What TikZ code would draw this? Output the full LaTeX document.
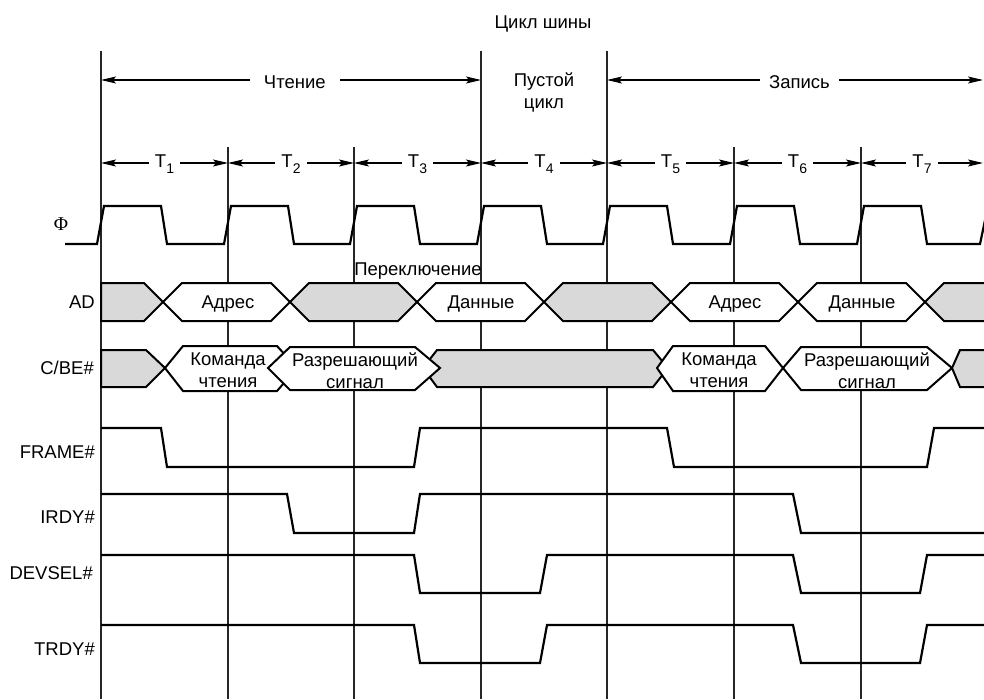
\documentclass[tikz,border=0pt]{standalone}
\usepackage{fontspec}
\setmainfont{Liberation Sans}
\newfontfamily\phifont{Liberation Serif}
\usetikzlibrary{arrows.meta}
\newcommand{\Tl}[1]{T\raisebox{-6pt}{\fontsize{14}{14}\selectfont #1}}
\begin{document}
\begin{tikzpicture}[x=1pt,y=-1pt,
  gridline/.style={line width=1.1pt, black!85},
  sig/.style={line width=2.2pt, line join=miter},
  bus/.style={line width=2pt, line join=miter, fill=white, draw=black},
  busg/.style={bus, fill=black!15},
  dim/.style={line width=1.1pt, {Stealth[length=15pt,width=7pt,inset=3pt]}-{Stealth[length=15pt,width=7pt,inset=3pt]}},
  lbl/.style={font=\fontsize{18.5}{22}\selectfont, inner sep=0pt},
  gap/.style={lbl, fill=white, inner xsep=6pt, inner ysep=1pt},
  siglbl/.style={lbl, anchor=base east},
  twoline/.style={lbl, align=center},
]
\useasboundingbox (0,0) rectangle (984,699);
\clip (0,0) rectangle (984,699);

% grid lines
\foreach \n/\x/\t in {0/101/51, 1/228/147, 2/354/147, 3/481/51, 4/607/51, 5/734/147, 6/861/147} {
  \coordinate (gt\n) at (\x,\t);
  \coordinate (gb\n) at (\x,699);
  \draw[gridline] (gt\n) -- (gb\n);
}

% titles
\node[lbl, anchor=base] (title) at (543,28) {Цикл шины};
\node[twoline] (idle) at (544,92) {Пустой\\цикл};

% phase arrows
\coordinate (rdL) at (101,80); \coordinate (rdR) at (481,80);
\draw[dim] (rdL) -- node[gap, inner xsep=14pt, pos=0.51, yshift=-2.5pt] (rdT) {Чтение} (rdR);
\coordinate (wrL) at (607,80); \coordinate (wrR) at (983,80);
\draw[dim] (wrL) -- node[gap, inner xsep=9pt, pos=0.512, yshift=-2.5pt] (wrT) {Запись} (wrR);

% T arrows
\foreach \i/\a/\b in {1/101/228, 2/228/354, 3/354/481, 4/481/607, 5/607/734, 6/734/861, 7/861/983} {
  \coordinate (tL\i) at (\a,163);
  \coordinate (tR\i) at (\b,163);
  \draw[dim] (tL\i) -- node[gap, yshift=-1pt] (tT\i) {\Tl{\i}} (tR\i);
}

% clock
\node[lbl, font=\fontsize{19.5}{19.5}\phifont] (phi) at (61,224) {Φ};
\draw[sig] (65,244)
  \foreach \x in {101,228,354,481,607,734,861} { -- (\x-4,244) -- (\x+3,206) -- (\x+60,206) -- (\x+66,244) }
  -- (980,244) -- (988,206);

% AD bus
\node[siglbl] (adL) at (95,308.5) {AD};
\path[busg] (101,283) -- (144,283) -- (163,302) -- (144,321) -- (101,321) -- cycle;
\foreach \a/\b/\st in {163/290/bus, 290/417/busg, 417/544/bus, 544/671/busg, 671/798/bus, 798/925/bus} {
  \path[\st] (\a,302) -- (\a+19,283) -- (\b-19,283) -- (\b,302) -- (\b-19,321) -- (\a+19,321) -- cycle;
}
\path[busg] (925,302) -- (944,283) -- (995,283) -- (995,321) -- (944,321) -- cycle;
\node[lbl, anchor=base] (ad1) at (228,308) {Адрес};
\node[lbl, anchor=base] (ad2) at (481,308) {Данные};
\node[lbl, anchor=base] (ad3) at (735,308) {Адрес};
\node[lbl, anchor=base] (ad4) at (862,308) {Данные};
\node[lbl, anchor=base] (turn) at (418,275) {Переключение};

% C/BE# bus
\node[siglbl] (cbL) at (94,374.5) {C/BE\#};
\path[busg] (101,350) -- (146,350) -- (165,368) -- (146,387) -- (101,387) -- cycle;
\path[bus] (165,368) -- (183,346) -- (277,346) -- (297,368) -- (277,391) -- (183,391) -- cycle;
\path[busg] (423,368) -- (437,350) -- (653,350) -- (668,368) -- (653,387) -- (437,387) -- cycle;
\path[bus] (268,368) -- (290,347) -- (415,347) -- (440,368) -- (415,390) -- (290,390) -- cycle;
\path[bus] (657,368) -- (673,346) -- (765,346) -- (783,368) -- (765,391) -- (673,391) -- cycle;
\path[bus] (783,368) -- (801,347) -- (927,347) -- (952,368) -- (927,390) -- (801,390) -- cycle;
\path[busg] (952,368) -- (960,350) -- (995,350) -- (995,387) -- (960,387) -- cycle;
\node[twoline] (cb1) at (228,370.5) {Команда\\чтения};
\node[twoline] (cb2) at (355,370.5) {Разрешающий\\сигнал};
\node[twoline] (cb3) at (719,370.5) {Команда\\чтения};
\node[twoline] (cb4) at (867,370.5) {Разрешающий\\сигнал};

% control signals
\node[siglbl] (frL) at (95,458.5) {FRAME\#};
\draw[sig] (101,428) -- (161,428) -- (167,467) -- (414,467) -- (420,428) -- (667,428) -- (674,467) -- (927,467) -- (934,428) -- (990,428);

\node[siglbl] (irL) at (95,523.5) {IRDY\#};
\draw[sig] (101,494) -- (287,494) -- (294,533) -- (414,533) -- (420,494) -- (793,494) -- (801,533) -- (990,533);

\node[siglbl] (dvL) at (93,579.5) {DEVSEL\#};
\draw[sig] (101,555) -- (414,555) -- (420,593) -- (540,593) -- (547,555) -- (793,555) -- (801,593) -- (920,593) -- (927,555) -- (990,555);

\node[siglbl] (trL) at (95,655.5) {TRDY\#};
\draw[sig] (101,625) -- (414,625) -- (420,663) -- (540,663) -- (547,625) -- (793,625) -- (801,663) -- (920,663) -- (927,625) -- (990,625);
\end{tikzpicture}
\end{document}
